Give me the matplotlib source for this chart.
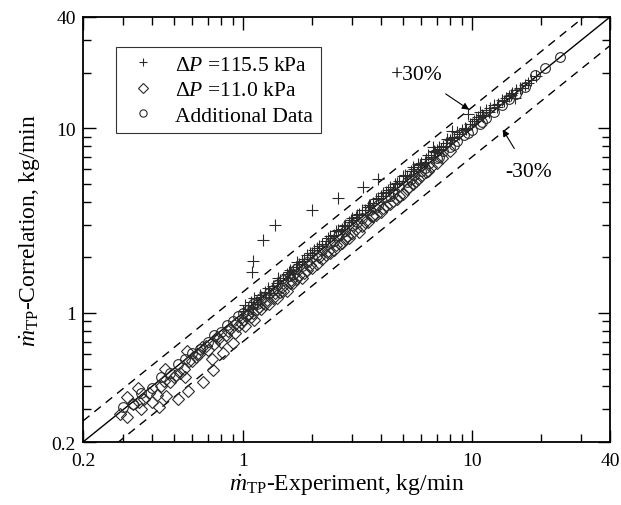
import matplotlib
matplotlib.use("Agg")
import matplotlib.pyplot as plt
from matplotlib.ticker import FixedLocator, NullFormatter, FixedFormatter

plt.rcParams['font.family'] = ['Liberation Serif', 'DejaVu Serif']
plt.rcParams['mathtext.fontset'] = 'custom'
plt.rcParams['mathtext.rm'] = 'Liberation Serif'
plt.rcParams['mathtext.it'] = 'Liberation Serif:italic'

# ---- data ----
plus_x = [1.00, 1.02, 1.05, 1.08, 1.09, 1.105, 1.10, 1.12, 1.15, 1.18, 1.22, 1.20, 1.25, 1.30, 1.35, 1.378,
          1.40, 1.45, 1.50, 1.55, 1.60, 1.65, 1.70, 1.75, 1.80, 1.85, 1.90, 2.00, 2.00, 2.05, 2.10, 2.20,
          2.30, 2.40, 2.50, 2.60, 2.60, 2.70, 2.80, 2.90, 3.00, 3.10, 3.20, 3.34, 3.40, 3.50, 3.60, 3.70,
          3.88, 3.90, 4.00, 4.20, 4.40, 4.50, 4.60, 4.80, 5.00, 5.20, 5.40, 5.52, 5.60, 5.80, 6.00, 6.20,
          6.40, 6.60, 6.75, 6.80, 7.00, 7.20, 7.50, 7.80, 8.00, 8.17, 8.30, 8.60, 9.00, 9.60, 9.30, 9.80,
          10.2, 10.6, 10.8, 11.0, 11.5, 12.0, 12.5, 13.0, 13.5, 14.0, 14.5, 15.0, 15.4, 15.6, 16.2, 17.0, 18.0,
          1.28, 1.42, 1.58, 1.72, 1.95, 2.15, 2.35, 2.55, 2.75, 2.95, 3.15, 3.30, 3.55, 3.80, 4.10, 4.30,
          4.70, 5.10, 5.50, 5.90, 6.30, 6.90, 7.30, 7.70, 8.20, 8.80, 9.40, 10.0, 10.4, 11.2, 11.8, 12.8,
          13.8, 14.8, 16.5, 17.5, 19.0]
plus_y = [1.02, 1.10, 1.05, 1.15, 1.66, 1.92, 1.08, 1.20, 1.12, 1.25, 2.47, 1.22, 1.30, 1.28, 1.40, 2.98,
          1.45, 1.50, 1.55, 1.62, 1.70, 1.68, 1.78, 1.85, 1.90, 1.95, 2.05, 3.59, 2.10, 2.20, 2.25, 2.35,
          2.45, 2.60, 2.65, 4.17, 2.80, 2.85, 3.00, 3.10, 3.25, 3.30, 3.45, 4.78, 3.60, 3.75, 3.85, 3.95,
          5.28, 4.20, 4.30, 4.50, 4.80, 4.70, 5.00, 5.20, 5.50, 5.50, 5.90, 6.13, 6.00, 6.40, 6.50, 6.60,
          7.20, 7.00, 7.96, 7.50, 7.60, 7.90, 8.00, 8.70, 8.60, 9.60, 9.00, 9.50, 9.80, 12.0, 10.0, 10.5,
          11.0, 11.5, 12.3, 11.8, 12.5, 12.8, 13.3, 13.6, 14.2, 14.6, 15.0, 15.6, 14.6, 16.0, 16.6, 17.2, 18.3,
          1.36, 1.55, 1.66, 1.88, 2.12, 2.30, 2.55, 2.78, 2.95, 3.20, 3.40, 3.62, 3.85, 4.15, 4.45, 4.65,
          5.05, 5.55, 5.85, 6.30, 6.80, 7.40, 7.70, 8.30, 8.80, 9.30, 9.90, 10.6, 11.2, 11.6, 12.3, 13.1,
          14.0, 15.1, 16.6, 17.6, 19.2]

dia_x = [0.29, 0.31, 0.31, 0.33, 0.348, 0.36, 0.37, 0.39, 0.40, 0.42, 0.43, 0.44, 0.456, 0.46, 0.48, 0.50,
         0.52, 0.53, 0.55, 0.56, 0.574, 0.57, 0.58, 0.60, 0.62, 0.64, 0.67, 0.66, 0.70, 0.73, 0.74, 0.75,
         0.78, 0.80, 0.82, 0.84, 0.86, 0.90, 0.88, 0.92, 0.95, 0.98, 1.00, 1.02, 1.05, 1.08, 1.10, 1.12,
         1.15, 1.20, 1.25, 1.30, 1.35, 1.40, 1.45, 1.50, 1.55, 1.60, 1.65, 1.70, 1.80, 1.85, 1.90, 2.00,
         2.10, 2.20, 2.30, 2.40, 2.50, 2.65, 2.70, 2.80, 2.90, 3.00, 3.20, 3.30, 3.50, 3.69, 3.80, 4.00,
         4.20, 4.40, 4.70, 4.80, 5.00, 5.30, 5.50, 5.80, 6.00, 6.30, 6.60, 7.00,
         0.35, 0.45, 0.51, 0.63, 0.69, 0.77, 0.93, 1.04, 1.17, 1.27, 1.38, 1.48, 1.62, 1.75, 1.95, 2.15,
         2.35, 2.55, 2.85, 3.10, 3.40, 3.65, 4.10, 4.50, 5.20, 5.70, 6.40, 7.40, 8.00]
dia_y = [0.283, 0.273, 0.35, 0.32, 0.392, 0.30, 0.34, 0.37, 0.33, 0.36, 0.31, 0.40, 0.496, 0.355, 0.42, 0.45,
         0.34, 0.47, 0.50, 0.45, 0.377, 0.62, 0.55, 0.55, 0.58, 0.60, 0.42, 0.65, 0.63, 0.56, 0.49, 0.68,
         0.72, 0.70, 0.61, 0.76, 0.80, 0.69, 0.82, 0.78, 0.85, 0.88, 0.92, 0.85, 0.97, 0.95, 1.00, 0.92,
         1.05, 1.05, 1.12, 1.12, 1.20, 1.20, 1.30, 1.32, 1.32, 1.45, 1.45, 1.52, 1.55, 1.65, 1.70, 1.75,
         1.85, 1.95, 2.05, 2.10, 2.20, 2.35, 2.40, 2.50, 2.55, 2.70, 2.75, 2.95, 3.10, 3.33, 3.40, 3.50,
         3.80, 3.90, 4.12, 4.30, 4.40, 4.80, 5.00, 5.30, 5.50, 5.80, 6.20, 6.50,
         0.33, 0.43, 0.46, 0.60, 0.66, 0.74, 0.88, 0.98, 1.08, 1.18, 1.28, 1.38, 1.50, 1.60, 1.82, 2.00,
         2.15, 2.32, 2.60, 2.85, 3.10, 3.35, 3.70, 4.05, 4.70, 5.20, 5.90, 6.90, 7.50]

add_x = [0.30, 0.33, 0.36, 0.40, 0.44, 0.48, 0.52, 0.56, 0.60, 0.65, 0.70, 0.75, 0.80, 0.85, 0.90, 0.95,
         1.00, 1.05, 1.10, 1.20, 1.30, 1.40, 1.50, 1.60, 1.70, 1.80, 1.90, 2.00, 2.20, 2.40, 2.60, 2.80,
         3.00, 3.30, 3.60, 3.90, 4.20, 4.50, 4.80, 5.20, 5.60, 6.00, 6.50, 7.00, 7.50, 8.00, 8.60, 9.20,
         10.0, 10.8, 11.5, 12.5, 13.5, 14.5, 15.5, 17.0, 18.9, 20.8, 24.2,
         1.15, 1.35, 1.65, 2.10, 2.50, 3.15, 3.75, 4.40, 5.40, 6.20, 7.20, 8.30, 9.60, 11.0]
add_y = [0.31, 0.32, 0.37, 0.39, 0.45, 0.47, 0.53, 0.56, 0.61, 0.64, 0.70, 0.76, 0.79, 0.86, 0.90, 0.96,
         1.00, 1.04, 1.12, 1.20, 1.28, 1.42, 1.50, 1.58, 1.72, 1.80, 1.88, 2.02, 2.20, 2.38, 2.62, 2.78,
         3.00, 3.25, 3.62, 3.85, 4.25, 4.45, 4.85, 5.10, 5.60, 5.90, 6.50, 6.90, 7.50, 7.90, 8.50, 9.20,
         9.80, 10.6, 11.4, 12.2, 13.3, 14.4, 15.4, 16.8, 19.3, 21.3, 24.4,
         1.12, 1.33, 1.62, 2.05, 2.45, 3.10, 3.70, 4.30, 5.30, 6.10, 7.00, 8.10, 9.40, 10.8]

axis_lim = [0.2, 40]
tick_vals = [0.2, 1, 10, 40]
tick_labels = ['0.2', '1', '10', '40']
minor_vals = [0.3, 0.4, 0.5, 0.6, 0.7, 0.8, 0.9, 2, 3, 4, 5, 6, 7, 8, 9, 20, 30]
band = [1.3, 0.7]

fig = plt.figure(figsize=(6.21, 5.06), dpi=100)
ax = fig.add_axes([83/621, 1-443/506, (610-83)/621, (443-18)/506])
ax.set_xscale('log')
ax.set_yscale('log')
ax.set_xlim(axis_lim)
ax.set_ylim(axis_lim)

ax.plot(axis_lim, axis_lim, color='black', lw=1.0, zorder=1)
for f in band:
    ax.plot(axis_lim, [v * f for v in axis_lim], color='black', lw=1.0,
            dashes=(6, 4.5), zorder=1)

mc = '#2a2a2a'
ax.plot(plus_x, plus_y, linestyle='none', marker='+', ms=8.5, mew=0.8, color=mc,
        label=r'$\Delta P$ =115.5 kPa')
ax.plot(dia_x, dia_y, linestyle='none', marker='D', ms=6.5, mew=0.8, mfc='none', mec=mc,
        label=r'$\Delta P$ =11.0 kPa')
ax.plot(add_x, add_y, linestyle='none', marker='o', ms=7, mew=0.8, mfc='none', mec=mc,
        label='Additional Data')

for a in (ax.xaxis, ax.yaxis):
    a.set_major_locator(FixedLocator(tick_vals))
    a.set_major_formatter(FixedFormatter(tick_labels))
    a.set_minor_locator(FixedLocator(minor_vals))
    a.set_minor_formatter(NullFormatter())

ax.tick_params(which='both', direction='in', top=True, right=True, width=1.0, labelsize=14)
ax.tick_params(which='major', length=9)
ax.tick_params(which='minor', length=6)
ax.tick_params(axis='x', pad=7)
ax.tick_params(axis='y', pad=5)
for s in ax.spines.values():
    s.set_linewidth(1.3)

ax.set_xlabel(r'$\dot{m}_{\rm TP}$-Experiment, kg/min', fontsize=17, labelpad=2)
ax.set_ylabel(r'$\dot{m}_{\rm TP}$-Correlation, kg/min', fontsize=17, labelpad=6)

ax.annotate('+30%', xy=(9.7, 12.6), xytext=(5.75, 19.5), fontsize=15.5, ha='center', va='center',
            arrowprops=dict(arrowstyle='-|>', color='black', lw=0.8, shrinkA=9, shrinkB=0,
                            mutation_scale=10))
ax.annotate('-30%', xy=(13.6, 9.84), xytext=(17.6, 5.83), fontsize=15.5, ha='center', va='center',
            arrowprops=dict(arrowstyle='-|>', color='black', lw=0.8, shrinkA=9, shrinkB=0,
                            mutation_scale=10))

leg = ax.legend(loc='upper left', bbox_to_anchor=((116-83)/527, 1-(48-18)/425), fontsize=15.5,
                frameon=True, fancybox=False, edgecolor='black', borderpad=0.35,
                handletextpad=0.6, labelspacing=0.25, handlelength=1.8, borderaxespad=0,
                markerscale=0.75)
leg.get_frame().set_linewidth(0.8)

fig.savefig('out.png', dpi=100)
